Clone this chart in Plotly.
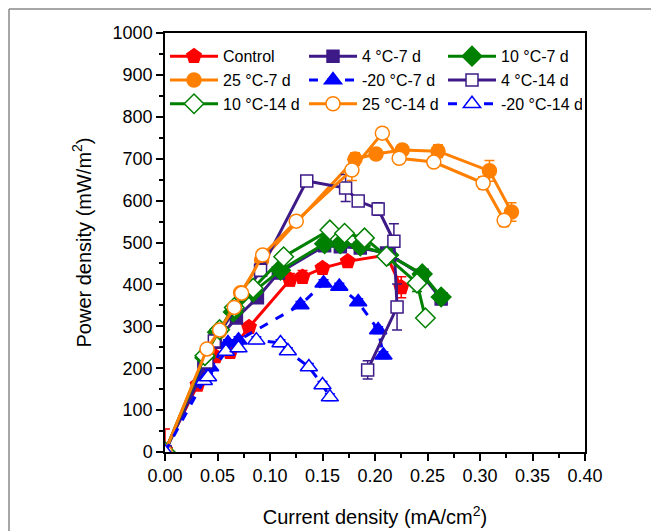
import plotly.graph_objects as go

# ---- data ----
control_x = [0.0, 0.031, 0.048, 0.062, 0.080, 0.119, 0.131, 0.150, 0.174, 0.211, 0.225]
control_y = [5, 160, 228, 238, 298, 411, 418, 439, 455, 470, 393]
control_e = [50, 10, 10, 10, 8, 15, 15, 10, 8, 15, 25]

c4d7_x = [0.0, 0.037, 0.048, 0.068, 0.088, 0.108, 0.152, 0.167, 0.186, 0.211, 0.245, 0.263]
c4d7_y = [0, 215, 262, 320, 368, 427, 492, 490, 487, 475, 422, 365]
c4d7_e = [3, 10, 10, 10, 10, 10, 12, 12, 12, 12, 10, 10]

c10d7_x = [0.0, 0.038, 0.050, 0.065, 0.084, 0.110, 0.152, 0.167, 0.186, 0.213, 0.245, 0.263]
c10d7_y = [0, 225, 286, 334, 382, 434, 497, 497, 492, 470, 425, 370]
c10d7_e = [3, 10, 10, 10, 10, 10, 10, 10, 10, 10, 10, 10]

c25d7_x = [0.0, 0.040, 0.052, 0.072, 0.092, 0.181, 0.201, 0.226, 0.260, 0.309, 0.330]
c25d7_y = [0, 240, 288, 380, 458, 699, 711, 721, 718, 671, 573]
c25d7_e = [3, 10, 10, 10, 10, 15, 12, 12, 15, 25, 22]

m20d7_x = [0.0, 0.035, 0.043, 0.060, 0.070, 0.129, 0.151, 0.166, 0.184, 0.203, 0.208]
m20d7_y = [0, 179, 203, 260, 267, 351, 403, 395, 358, 291, 231]
m20d7_e = [3, 8, 8, 8, 8, 8, 8, 8, 8, 8, 8]

c4d14_x = [0.0, 0.040, 0.047, 0.091, 0.135, 0.172, 0.184, 0.203, 0.218, 0.221, 0.193]
c4d14_y = [0, 215, 265, 434, 647, 630, 599, 580, 503, 346, 196]
c4d14_e = [3, 10, 10, 15, 10, 32, 12, 15, 42, 55, 22]

c10d14_x = [0.0, 0.038, 0.052, 0.066, 0.084, 0.113, 0.157, 0.171, 0.190, 0.211, 0.240, 0.248]
c10d14_y = [0, 230, 292, 345, 391, 466, 530, 522, 511, 467, 403, 320]
c10d14_e = [3, 10, 10, 10, 10, 10, 10, 10, 10, 10, 20, 10]

c25d14_x = [0.0, 0.040, 0.052, 0.066, 0.073, 0.093, 0.125, 0.178, 0.207, 0.223, 0.256, 0.303, 0.323]
c25d14_y = [0, 246, 291, 345, 379, 470, 551, 673, 761, 701, 692, 642, 553]
c25d14_e = [3, 10, 10, 10, 10, 12, 12, 25, 12, 12, 12, 15, 15]

m20d14_x = [0.0, 0.037, 0.041, 0.058, 0.070, 0.087, 0.110, 0.117, 0.137, 0.150, 0.157]
m20d14_y = [0, 170, 179, 240, 248, 267, 260, 241, 203, 160, 131]
m20d14_e = [3, 8, 8, 8, 8, 8, 8, 8, 8, 8, 8]

RED = "#FF0000"
PURPLE = "#3D1A87"
GREEN = "#008000"
ORANGE = "#FF8000"
BLUE = "#0000FF"

series = [
    ("Control", control_x, control_y, control_e, RED, "pentagon", True, "solid", 15),
    ("4 °C-7 d", c4d7_x, c4d7_y, c4d7_e, PURPLE, "square", True, "solid", 12),
    ("10 °C-7 d", c10d7_x, c10d7_y, c10d7_e, GREEN, "diamond", True, "solid", 15),
    ("25 °C-7 d", c25d7_x, c25d7_y, c25d7_e, ORANGE, "circle", True, "solid", 14),
    ("-20 °C-7 d", m20d7_x, m20d7_y, m20d7_e, BLUE, "triangle-up", True, "dash", 15),
    ("4 °C-14 d", c4d14_x, c4d14_y, c4d14_e, PURPLE, "square", False, "solid", 12),
    ("10 °C-14 d", c10d14_x, c10d14_y, c10d14_e, GREEN, "diamond", False, "solid", 15),
    ("25 °C-14 d", c25d14_x, c25d14_y, c25d14_e, ORANGE, "circle", False, "solid", 14),
    ("-20 °C-14 d", m20d14_x, m20d14_y, m20d14_e, BLUE, "triangle-up", False, "dash", 15),
]

fig = go.Figure()
for name, xs, ys, es, col, sym, filled, dash, size in series:
    fig.add_trace(go.Scatter(
        x=xs, y=ys, name=name, mode="lines+markers",
        line=dict(color=col, width=3, dash=dash),
        marker=dict(symbol=sym, size=size,
                    color=col if filled else "white",
                    line=dict(color=col, width=1.5)),
        error_y=dict(type="data", array=es, visible=True, color=col,
                     thickness=1.5, width=5),
    ))

L, T, PW, PH = 157, 25, 420, 419
W, H = 651, 523
fig.update_layout(
    width=W, height=H,
    margin=dict(l=L, r=W - L - PW, t=T, b=H - T - PH),
    paper_bgcolor="white", plot_bgcolor="white",
    font=dict(family="Liberation Sans, Arial, sans-serif", color="black"),
    showlegend=True,
    legend=dict(
        orientation="h", x=0.0, y=0.985, xanchor="left", yanchor="top",
        bgcolor="rgba(0,0,0,0)", font=dict(size=16),
        entrywidth=76, entrywidthmode="pixels", itemwidth=48,
        traceorder="normal",
    ),
    shapes=[
        dict(type="line", xref="paper", yref="paper",
             x0=-(L - 1) / PW, x1=-(L - 1) / PW, y0=1 + (T - 1) / PH, y1=-(H - T - PH) / PH,
             line=dict(color="#888888", width=1.5)),
        dict(type="line", xref="paper", yref="paper",
             x0=-(L - 1) / PW, x1=(W - L) / PW, y0=1 + (T - 1) / PH, y1=1 + (T - 1) / PH,
             line=dict(color="#888888", width=1.5)),
    ],
)

fig.update_xaxes(
    range=[0, 0.4], dtick=0.05, tickformat=".2f", automargin=False,
    ticks="outside", ticklen=7, tickwidth=1.5, tickcolor="black",
    minor=dict(dtick=0.025, ticks="outside", ticklen=4, tickwidth=1.5, tickcolor="black"),
    showline=True, linecolor="black", linewidth=1.5, mirror=True,
    showgrid=False, zeroline=False,
    tickfont=dict(size=18),
    title=dict(text="Current density (mA/cm<sup>2</sup>)", font=dict(size=20), standoff=25),
)
fig.update_yaxes(
    range=[0, 1000], dtick=100, automargin=False,
    ticks="outside", ticklen=7, tickwidth=1.5, tickcolor="black",
    minor=dict(dtick=50, ticks="outside", ticklen=4, tickwidth=1.5, tickcolor="black"),
    showline=True, linecolor="black", linewidth=1.5, mirror=True,
    showgrid=False, zeroline=False,
    tickfont=dict(size=18),
    title=dict(text="Power density (mW/m<sup>2</sup>)", font=dict(size=20), standoff=16),
)

fig.write_html("out.html")
